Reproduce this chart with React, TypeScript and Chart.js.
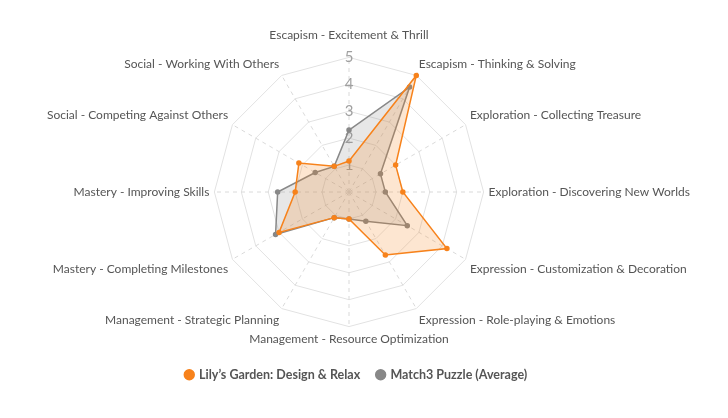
import React, { useEffect, useRef } from "react";
import { Chart, registerables } from "chart.js";

Chart.register(...registerables);

const categories = [
  "Escapism - Excitement & Thrill",
  "Escapism - Thinking & Solving",
  "Exploration - Collecting Treasure",
  "Exploration - Discovering New Worlds",
  "Expression - Customization & Decoration",
  "Expression - Role-playing & Emotions",
  "Management - Resource Optimization",
  "Management - Strategic Planning",
  "Mastery - Completing Milestones",
  "Mastery - Improving Skills",
  "Social - Competing Against Others",
  "Social - Working With Others",
];

const lilysGarden = [1.15, 5.0, 2.0, 2.0, 4.2, 2.7, 1.0, 1.1, 3.0, 2.0, 2.15, 1.1];
const match3Average = [2.3, 4.5, 1.35, 1.35, 2.5, 1.25, 1.0, 1.1, 3.15, 2.65, 1.45, 1.1];

const seriesNames = ["Lily’s Garden: Design & Relax", "Match3 Puzzle (Average)"];

const FONT = "Lato, 'Open Sans', sans-serif";

export default function App() {
  const ref = useRef<HTMLCanvasElement>(null);
  useEffect(() => {
    document.body.style.margin = "0";
    const chart = new Chart(ref.current!, {
      type: "radar",
      data: {
        labels: categories,
        datasets: [
          {
            label: seriesNames[0],
            data: lilysGarden,
            borderColor: "#f7821b",
            backgroundColor: "rgba(247,130,27,0.2)",
            pointBackgroundColor: "#f7821b",
            pointBorderColor: "#f7821b",
            borderWidth: 1.5,
            pointRadius: 2,
            fill: true,
          },
          {
            label: seriesNames[1],
            data: match3Average,
            borderColor: "#888888",
            backgroundColor: "rgba(136,136,136,0.2)",
            pointBackgroundColor: "#888888",
            pointBorderColor: "#888888",
            borderWidth: 1.5,
            pointRadius: 2,
            fill: true,
          },
        ],
      },
      options: {
        animation: false,
        responsive: true,
        maintainAspectRatio: false,
        layout: { padding: { top: 23, bottom: 27, left: 0, right: 15 } },
        plugins: {
          legend: {
            position: "bottom",
            labels: {
              usePointStyle: true,
              pointStyle: "circle",
              boxWidth: 7,
              boxHeight: 7,
              padding: 17,
              color: "#555",
              font: { family: FONT, size: 12.5, weight: "bold" },
            },
          },
          tooltip: { enabled: false },
        },
        scales: {
          r: {
            min: 0,
            max: 5,
            ticks: {
              stepSize: 1,
              showLabelBackdrop: false,
              backdropPadding: -7.5,
              color: "#a0a0a0",
              font: { family: FONT, size: 15 },
            },
            grid: { color: "#e2e2e2", lineWidth: 1 },
            angleLines: { color: "#dadada", borderDash: [4, 4] },
            pointLabels: {
              color: "#555",
              font: { family: FONT, size: 12 },
              padding: (ctx: any) => (ctx.index === 0 ? 15 : 5),
            },
          },
        },
      },
    });
    return () => chart.destroy();
  }, []);
  return (
    <div style={{ width: 728, height: 418, position: "relative" }}>
      <canvas ref={ref} />
    </div>
  );
}
